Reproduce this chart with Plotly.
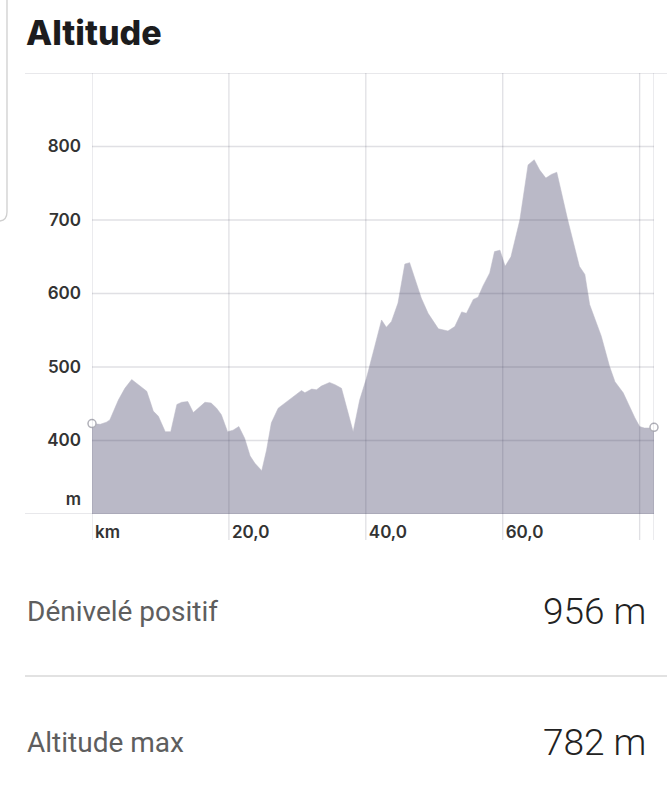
import plotly.graph_objects as go

# ---- data ----
distance_km = [0.0, 1.2, 2.1, 2.6, 3.85, 4.8, 5.8, 6.8, 8.0, 8.5, 8.95, 9.7, 10.7, 11.5,
               12.4, 13.1, 14.0, 14.8, 15.8, 16.5, 17.4, 18.2, 18.9, 19.8, 20.6, 21.45,
               22.3, 23.1, 23.8, 24.8, 25.5, 26.2, 27.2, 28.7, 30.6, 31.1, 32.1, 32.8,
               33.5, 34.7, 35.5, 36.45, 37.2, 38.15, 39.1, 40.1, 41.3, 42.3, 43.0, 43.75,
               44.7, 45.2, 45.7, 46.4, 47.2, 48.1, 49.1, 50.6, 52.0, 53.0, 54.0, 54.7,
               55.7, 56.4, 57.1, 58.1, 58.8, 59.6, 60.35, 61.2, 62.5, 63.7, 64.6, 65.4,
               66.3, 67.1, 67.9, 69.5, 71.2, 72.0, 72.7, 74.4, 75.6, 76.4, 77.6, 78.5,
               79.3, 80.0, 80.7, 81.4, 82.1]
altitude_m = [423, 422, 425, 428, 455, 471, 483, 476, 467, 453, 440, 433, 412, 412,
              449, 452, 453, 438, 447, 452, 451, 444, 435, 412, 414, 419,
              403, 379, 369, 359, 387, 424, 444, 455, 468, 465, 470, 469,
              474, 479, 476, 471, 446, 412, 455, 485, 528, 564, 554, 562,
              587, 614, 640, 642, 619, 594, 573, 552, 549, 555, 575, 573,
              592, 595, 610, 628, 657, 659, 637, 650, 700, 775, 782, 768,
              757, 762, 765, 700, 637, 626, 585, 542, 501, 480, 465, 446,
              431, 419, 417, 417, 418]

x_tick_vals = [0, 20, 40, 60]
x_tick_text = ["km", "20,0", "40,0", "60,0"]
y_tick_vals = [321, 400, 500, 600, 700, 800]
y_tick_text = ["m", "400", "500", "600", "700", "800"]
x_grid = [0, 20, 40, 60, 80, 82.1]
y_grid = [400, 500, 600, 700, 800]

stat_labels = ["Dénivelé positif", "Altitude max"]
stat_values = ["956 m", "782 m"]

# ---- geometry helpers (pixel -> paper) ----
W, H = 667, 800
L, R, T, B = 92, 13, 73, 286
PW, PH = W - L - R, H - T - B


def px(x):
    return (x - L) / PW


def py(y):
    return (H - B - y) / PH


fig = go.Figure()
fig.add_trace(go.Scatter(
    x=distance_km, y=altitude_m, mode="lines", fill="tozeroy",
    line=dict(color="#bab9c7", width=0.5), fillcolor="#bab9c7",
    hoverinfo="skip", showlegend=False))
fig.add_trace(go.Scatter(
    x=[distance_km[0], distance_km[-1]], y=[altitude_m[0], altitude_m[-1]],
    mode="markers", cliponaxis=False,
    marker=dict(size=8, color="white", line=dict(color="#b0b0b8", width=1.5)),
    hoverinfo="skip", showlegend=False))

grid_col = "rgba(60,60,85,0.16)"
shapes = []
for yv in y_grid:
    shapes.append(dict(type="line", xref="paper", yref="y", x0=0, x1=1, y0=yv, y1=yv,
                       line=dict(color=grid_col, width=1.3), layer="above"))
# top and bottom frame lines
shapes.append(dict(type="line", xref="paper", yref="y", x0=px(25), x1=px(667), y0=900, y1=900,
                   line=dict(color=grid_col, width=1.3), layer="above"))
shapes.append(dict(type="line", xref="paper", yref="y", x0=px(25), x1=1, y0=300, y1=300,
                   line=dict(color=grid_col, width=1.3), layer="above"))
for xv in x_grid:
    shapes.append(dict(type="line", xref="x", yref="paper", x0=xv, x1=xv, y0=py(540), y1=1,
                       line=dict(color=grid_col, width=1.3), layer="above"))
# card edge at left
shapes.append(dict(type="path", xref="paper", yref="paper",
                   path=f"M {px(7)},{py(0)} L {px(7)},{py(212)} Q {px(7)},{py(220)} {px(0)},{py(221)}",
                   line=dict(color="#cfcfcf", width=1.3), layer="above"))
# divider between stats
shapes.append(dict(type="line", xref="paper", yref="paper", x0=px(25), x1=px(667), y0=py(676), y1=py(676),
                   line=dict(color="#d9d9d9", width=1.3)))

annotations = [dict(text="Altitude", xref="paper", yref="paper", x=px(24), y=py(33),
                    xanchor="left", yanchor="middle", showarrow=False,
                    font=dict(family="Inter", size=34, color="#1c1c1e", weight=800))]
for i, (lab, val) in enumerate(zip(stat_labels, stat_values)):
    yy = [611, 742][i]
    annotations.append(dict(text=lab, xref="paper", yref="paper", x=px(25), y=py(yy),
                            xanchor="left", yanchor="middle", showarrow=False,
                            font=dict(family="Roboto", size=28, color="#5e5e5e")))
    annotations.append(dict(text=val, xref="paper", yref="paper", x=px(648), y=py(yy),
                            xanchor="right", yanchor="middle", showarrow=False,
                            font=dict(family="Roboto", size=37, color="#222222", weight=300)))

fig.update_layout(
    width=W, height=H, margin=dict(l=L, r=R, t=T, b=B),
    paper_bgcolor="white", plot_bgcolor="white",
    shapes=shapes, annotations=annotations,
    xaxis=dict(range=[0, 82.1], showgrid=False, zeroline=False, showline=False,
               tickvals=x_tick_vals, ticktext=x_tick_text, ticks="",
               ticklabelposition="outside right", ticklabelstandoff=6, ticklabelshift=3,
               tickfont=dict(family="Inter", size=17, color="#333333", weight=600),
               fixedrange=True),
    yaxis=dict(range=[300, 900], showgrid=False, zeroline=False, showline=False,
               tickvals=y_tick_vals, ticktext=y_tick_text, ticks="",
               ticklabelstandoff=10,
               tickfont=dict(family="Inter", size=17, color="#333333", weight=600),
               fixedrange=True),
)

fig.write_html("out.html", config={"displayModeBar": False},
               post_script="document.body.style.margin='0';")
